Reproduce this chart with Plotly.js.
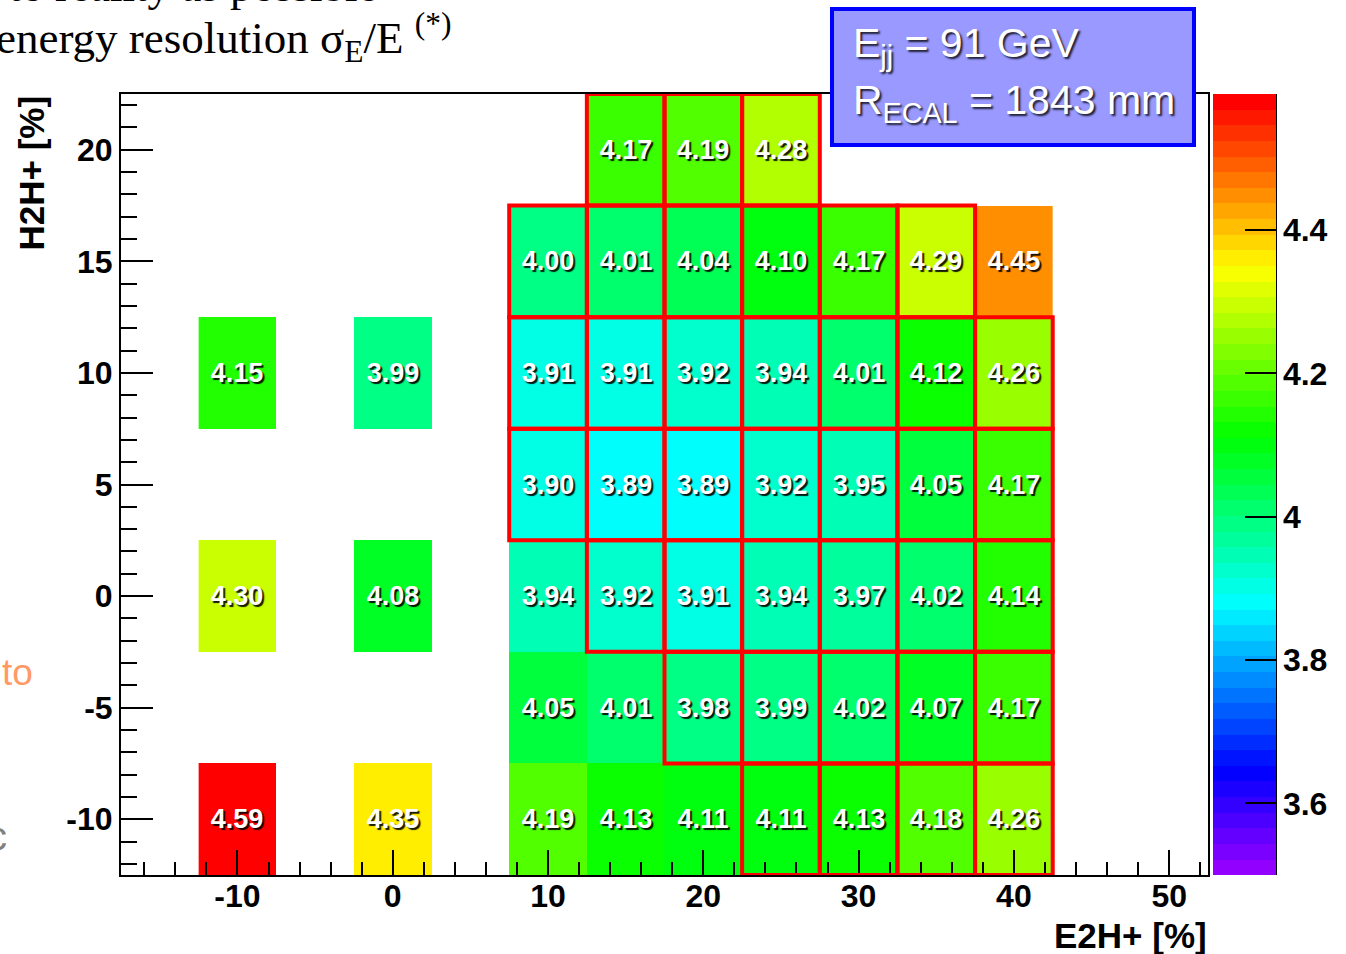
<!DOCTYPE html>
<html>
<head>
<meta charset="utf-8">
<script src="https://cdn.plot.ly/plotly-3.0.1.min.js"></script>
<style>
  html, body { margin: 0; padding: 0; background: #fff; overflow: hidden; }
  #plot { width: 1346px; height: 954px; }
</style>
</head>
<body>
<div id="plot"></div>
<script>
// Bin centres (percent) of the 2D scan
const e2hBins = [-10, -5, 0, 5, 10, 15, 20, 25, 30, 35, 40];
const h2hBins = [-10, -5, 0, 5, 10, 15, 20];

// Jet energy resolution sigma_E/E [%], one row per H2H+ bin (bottom to top)
const resRowM10 = [4.59, null, 4.35, null, 4.19, 4.13, 4.11, 4.11, 4.13, 4.18, 4.26];
const resRowM5  = [null, null, null, null, 4.05, 4.01, 3.98, 3.99, 4.02, 4.07, 4.17];
const resRow0   = [4.30, null, 4.08, null, 3.94, 3.92, 3.91, 3.94, 3.97, 4.02, 4.14];
const resRow5   = [null, null, null, null, 3.90, 3.89, 3.89, 3.92, 3.95, 4.05, 4.17];
const resRow10  = [4.15, null, 3.99, null, 3.91, 3.91, 3.92, 3.94, 4.01, 4.12, 4.26];
const resRow15  = [null, null, null, null, 4.00, 4.01, 4.04, 4.10, 4.17, 4.29, 4.45];
const resRow20  = [null, null, null, null, null, 4.17, 4.19, 4.28, null, null, null];
const resolution = [resRowM10, resRowM5, resRow0, resRow5, resRow10, resRow15, resRow20];

// Bins outlined in red (1 = outlined)
const boxRowM10 = [0, 0, 0, 0, 0, 0, 0, 1, 1, 1, 1];
const boxRowM5  = [0, 0, 0, 0, 0, 0, 1, 1, 1, 1, 1];
const boxRow0   = [0, 0, 0, 0, 0, 1, 1, 1, 1, 1, 1];
const boxRow5   = [0, 0, 0, 0, 1, 1, 1, 1, 1, 1, 1];
const boxRow10  = [0, 0, 0, 0, 1, 1, 1, 1, 1, 1, 1];
const boxRow15  = [0, 0, 0, 0, 1, 1, 1, 1, 1, 1, 0];
const boxRow20  = [0, 0, 0, 0, 0, 1, 1, 1, 0, 0, 0];
const outlined = [boxRowM10, boxRowM5, boxRow0, boxRow5, boxRow10, boxRow15, boxRow20];

// Axis tick labels (plain hyphen minus)
const xTickVals = [-10, 0, 10, 20, 30, 40, 50];
const xTickText = ['-10', '0', '10', '20', '30', '40', '50'];
const yTickVals = [-10, -5, 0, 5, 10, 15, 20];
const yTickText = ['-10', '-5', '0', '5', '10', '15', '20'];

const colourRange = [3.5, 4.59];
const colourTicks = [3.6, 3.8, 4.0, 4.2, 4.4];
const colourTickText = ['3.6', '3.8', '4', '4.2', '4.4'];
const binWidth = 5;

// 50-step violet -> red spectrum palette (HLS, lightness 0.5, saturation 1).
// Band edges carry the usual +0.01 level rounding offset of the contour index.
const nColours = 50;
const bandColour = i => `hsl(${(280 - (i + 1) * (280 / nColours)).toFixed(2)}, 100%, 50%)`;
const bandEdge = i => (i <= 0 ? 0 : i >= nColours ? 1 : (i - 0.01) / nColours);
const colorscale = [];
for (let i = 0; i < nColours; i++) {
  const c = bandColour(i);
  colorscale.push([bandEdge(i), c], [bandEdge(i + 1), c]);
}

// Cell labels
const cellText = resolution.map(row => row.map(v => (v === null ? '' : v.toFixed(2))));

// Page geometry
const W = 1346, H = 954;
const M = { l: 121, r: 138, t: 94, b: 79, autoexpand: false };
const PW = W - M.l - M.r, PH = H - M.t - M.b;
const px = p => (p - M.l) / PW;
const py = p => (H - M.b - p) / PH;

const sans = 'Liberation Sans, Arial, Helvetica, sans-serif';
const serif = 'Liberation Serif, Times New Roman, serif';

// Red outlines around selected bins
const shapes = [];
outlined.forEach((row, j) => row.forEach((flag, i) => {
  if (!flag) return;
  shapes.push({
    type: 'rect', xref: 'x', yref: 'y', layer: 'above',
    x0: e2hBins[i] - binWidth / 2, x1: e2hBins[i] + binWidth / 2,
    y0: h2hBins[j] - binWidth / 2, y1: h2hBins[j] + binWidth / 2,
    line: { color: '#ff0000', width: 4 }, fillcolor: 'rgba(0,0,0,0)'
  });
}));

// Info box
shapes.push({
  type: 'rect', xref: 'paper', yref: 'paper', layer: 'above',
  x0: px(832), x1: px(1194), y0: py(145), y1: py(9),
  line: { color: '#0000ff', width: 4 }, fillcolor: '#9999ff'
});
// Colour bar axis line
shapes.push({
  type: 'line', xref: 'paper', yref: 'paper', layer: 'above',
  x0: px(1276), x1: px(1276), y0: 0, y1: 1,
  line: { color: '#000', width: 2 }
});

const whiteShadow = '2px 2px 2px rgba(0,0,0,0.8)';

const annotations = [
  { text: 'd to reality as possible', x: px(378), y: py(-14), xanchor: 'right', yanchor: 'middle',
    font: { family: serif, size: 45, color: '#000' } },
  { text: 'energy resolution σ<sub>E</sub>/E <sup>(*)</sup>', x: px(-5), y: py(38), xanchor: 'left', yanchor: 'middle',
    font: { family: serif, size: 45, color: '#000' } },
  { text: 'to', x: px(1), y: py(672), xanchor: 'left', yanchor: 'middle',
    font: { family: sans, size: 37, color: '#ff9966' } },
  { text: 'c', x: px(8), y: py(836), xanchor: 'right', yanchor: 'middle',
    font: { family: sans, size: 40, color: '#808080' } },
  { text: 'E<sub>jj</sub> = 91 GeV', x: px(852), y: py(46), xanchor: 'left', yanchor: 'middle',
    font: { family: sans, size: 41, color: '#fff', shadow: whiteShadow } },
  { text: 'R<sub>ECAL</sub> = 1843 mm', x: px(852), y: py(103), xanchor: 'left', yanchor: 'middle',
    font: { family: sans, size: 41, color: '#fff', shadow: whiteShadow } },
  { text: 'E2H+ [%]', x: px(1208), y: py(935), xanchor: 'right', yanchor: 'middle',
    font: { family: sans, size: 35, color: '#000', weight: 'bold' } },
  { text: 'H2H+ [%]', x: px(31), y: py(95), xanchor: 'center', yanchor: 'top', textangle: -90,
    font: { family: sans, size: 35, color: '#000', weight: 'bold' } }
].map(a => Object.assign({ xref: 'paper', yref: 'paper', showarrow: false, borderpad: 0 }, a));

const tickFont = { family: sans, size: 32, color: '#000', weight: 'bold' };

const trace = {
  type: 'heatmap',
  x: e2hBins,
  y: h2hBins,
  z: resolution,
  text: cellText,
  texttemplate: '%{text}',
  textfont: { family: sans, size: 27, color: '#fff', weight: 'bold', shadow: '2px 2px 1px rgba(0,0,0,0.9)' },
  zmin: colourRange[0],
  zmax: colourRange[1],
  colorscale: colorscale,
  hoverongaps: false,
  colorbar: {
    x: px(1213), xanchor: 'left', xpad: 0,
    y: 0.5, yanchor: 'middle', ypad: 0,
    len: 1, lenmode: 'fraction',
    thickness: 63, thicknessmode: 'pixels',
    outlinewidth: 0,
    tickmode: 'array', tickvals: colourTicks, ticktext: colourTickText,
    ticks: 'inside', ticklen: 31, tickwidth: 2, tickcolor: '#000',
    tickfont: tickFont
  }
};

const layout = {
  width: W, height: H,
  margin: M,
  paper_bgcolor: '#fff', plot_bgcolor: '#fff',
  font: { family: sans, color: '#000' },
  showlegend: false,
  xaxis: {
    range: [-17.5, 52.5], tickmode: 'array', tickvals: xTickVals, ticktext: xTickText,
    ticks: 'inside', ticklen: 25, tickwidth: 2, tickcolor: '#000',
    showline: true, linecolor: '#000', linewidth: 2, mirror: true,
    showgrid: false, zeroline: false,
    tickfont: tickFont, ticklabelstandoff: -8,
    minor: { tickmode: 'linear', tick0: 0, dtick: 2, ticks: 'inside', ticklen: 13, tickwidth: 2, tickcolor: '#000', showgrid: false }
  },
  yaxis: {
    range: [-12.5, 22.5], tickmode: 'array', tickvals: yTickVals, ticktext: yTickText,
    ticks: 'inside', ticklen: 32, tickwidth: 2, tickcolor: '#000',
    showline: true, linecolor: '#000', linewidth: 2, mirror: true,
    showgrid: false, zeroline: false,
    tickfont: tickFont,
    minor: { tickmode: 'linear', tick0: 0, dtick: 1, ticks: 'inside', ticklen: 16, tickwidth: 2, tickcolor: '#000', showgrid: false }
  },
  shapes: shapes,
  annotations: annotations
};

Plotly.newPlot('plot', [trace], layout, { displayModeBar: false, staticPlot: true });
</script>
</body>
</html>
